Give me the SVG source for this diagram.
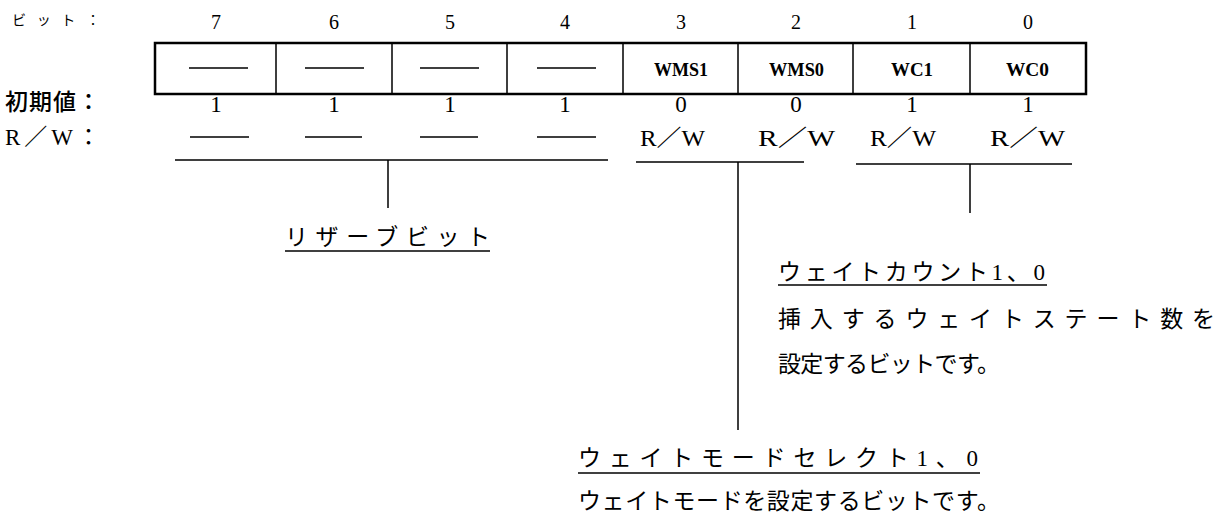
<svg xmlns="http://www.w3.org/2000/svg" width="1221" height="523" viewBox="0 0 1221 523">
<style>
.num{font-family:"Liberation Serif",serif;font-size:20px;fill:#000;text-anchor:middle}
.val{font-family:"Liberation Serif",serif;font-size:23px;fill:#000;text-anchor:middle}
.cell{font-family:"Liberation Serif",serif;font-weight:bold;font-size:19px;fill:#000}
.jp{font-family:"Liberation Serif","Noto Sans CJK JP",serif;font-size:23px;fill:#000}
.sm{font-family:"Noto Sans CJK JP",sans-serif;font-size:14px;fill:#000}
.ln{stroke:#000;stroke-width:1.5;fill:none}
.dash{stroke:#000;stroke-width:1.6}
</style>
<g id="header">
<text class="sm" x="12" y="25" textLength="88" lengthAdjust="spacing">ビット：</text>
<text class="num" x="216" y="29">7</text>
<text class="num" x="334" y="29">6</text>
<text class="num" x="450" y="29">5</text>
<text class="num" x="565" y="29">4</text>
<text class="num" x="681" y="29">3</text>
<text class="num" x="796" y="29">2</text>
<text class="num" x="912" y="29">1</text>
<text class="num" x="1028" y="29">0</text>
</g>
<g id="register">
<rect x="155" y="43" width="931" height="51" fill="none" stroke="#000" stroke-width="2.5"/>
<path class="ln" d="M276 43V94M392 43V94M507 43V94M623 43V94M738 43V94M853 43V94M970 43V94"/>
<path class="dash" d="M189 68H248M305 68H364M420 68H479M537 68H596"/>
<text class="cell" x="654" y="76" textLength="54" lengthAdjust="spacingAndGlyphs">WMS1</text>
<text class="cell" x="769" y="76" textLength="55" lengthAdjust="spacingAndGlyphs">WMS0</text>
<text class="cell" x="891" y="76" textLength="42" lengthAdjust="spacingAndGlyphs">WC1</text>
<text class="cell" x="1006" y="76" textLength="43" lengthAdjust="spacingAndGlyphs">WC0</text>
</g>
<g id="initial">
<text class="jp" x="5" y="110" textLength="95" lengthAdjust="spacing" font-weight="500">初期値：</text>
<text class="val" x="216" y="112">1</text>
<text class="val" x="334" y="112">1</text>
<text class="val" x="450" y="112">1</text>
<text class="val" x="565" y="112">1</text>
<text class="val" x="681" y="112">0</text>
<text class="val" x="796" y="112">0</text>
<text class="val" x="912" y="112">1</text>
<text class="val" x="1028" y="112">1</text>
</g>
<g id="rw">
<text class="jp" x="5" y="145" textLength="95" lengthAdjust="spacing">R／W：</text>
<path class="dash" d="M190 137H249M305 137H362M420 137H478M537 137H596"/>
<text class="jp" x="640" y="146" textLength="65" lengthAdjust="spacingAndGlyphs">R／W</text>
<text class="jp" x="758" y="146" textLength="77" lengthAdjust="spacingAndGlyphs">R／W</text>
<text class="jp" x="870" y="146" textLength="66" lengthAdjust="spacingAndGlyphs">R／W</text>
<text class="jp" x="990" y="146" textLength="75" lengthAdjust="spacingAndGlyphs">R／W</text>
</g>
<g id="connectors">
<path class="ln" d="M175 160H608M388 160V208"/>
<path class="ln" d="M636 162H804M738 162V430"/>
<path class="ln" d="M856 164H1072M970 164V213"/>
</g>
<g id="reserved">
<text class="jp" x="285" y="245" textLength="205" lengthAdjust="spacing">リザーブビット</text>
<path class="ln" d="M285 251H490"/>
</g>
<g id="wc">
<text class="jp" x="778" y="280" textLength="267" lengthAdjust="spacing">ウェイトカウント1、0</text>
<path class="ln" d="M778 285H1047"/>
<text class="jp" x="778" y="327" textLength="437" lengthAdjust="spacing">挿入するウェイトステート数を</text>
<text class="jp" x="778" y="372" textLength="222" lengthAdjust="spacing">設定するビットです。</text>
</g>
<g id="wms">
<text class="jp" x="578" y="466" textLength="400" lengthAdjust="spacing">ウェイトモードセレクト1、0</text>
<path class="ln" d="M578 473H980"/>
<text class="jp" x="578" y="509" textLength="422" lengthAdjust="spacing">ウェイトモードを設定するビットです。</text>
</g>
</svg>
